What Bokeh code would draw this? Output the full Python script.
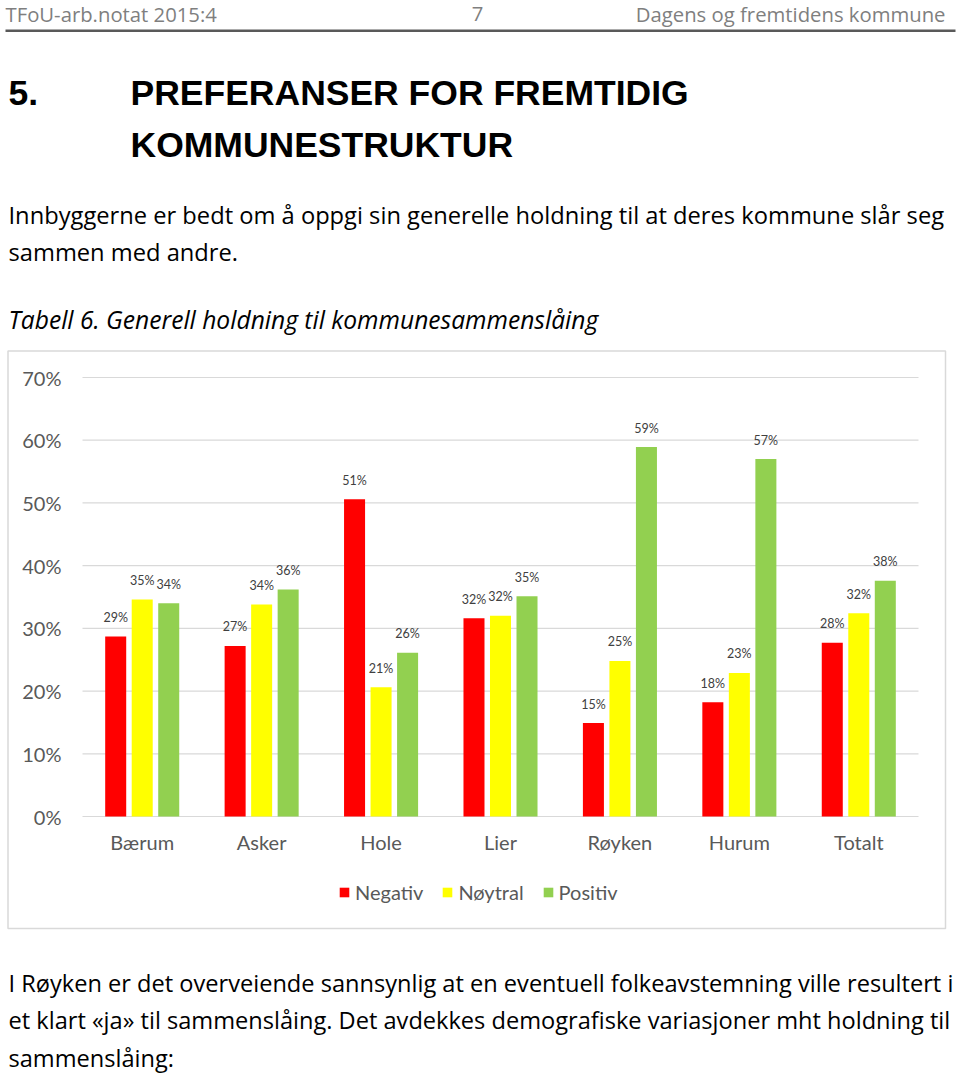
from bokeh.plotting import figure
from bokeh.models import (ColumnDataSource, Range1d, FixedTicker, Legend, LegendItem, LinearAxis)
from bokeh.transform import dodge
from bokeh.core.properties import value
from bokeh.embed import file_html
from bokeh.resources import INLINE

# ---------------- data ----------------
categories = ["Bærum", "Asker", "Hole", "Lier", "Røyken", "Hurum", "Totalt"]
negativ = [28.7, 27.2, 50.6, 31.6, 14.9, 18.2, 27.7]
noytral = [34.6, 33.8, 20.6, 32.0, 24.8, 22.9, 32.4]
positiv = [34.0, 36.2, 26.1, 35.1, 58.9, 57.0, 37.6]
series_names = ["Negativ", "Nøytral", "Positiv"]
y_ticks = [0, 10, 20, 30, 40, 50, 60, 70]
y_tick_labels = ["0%", "10%", "20%", "30%", "40%", "50%", "60%", "70%"]

header_left = "TFoU-arb.notat 2015:4"
header_mid = "7"
header_right = "Dagens og fremtidens kommune"
title_num = "5."
title_lines = ["PREFERANSER FOR FREMTIDIG", "KOMMUNESTRUKTUR"]
intro_lines = ["Innbyggerne er bedt om å oppgi sin generelle holdning til at deres kommune slår seg",
               "sammen med andre."]
caption = "Tabell 6. Generell holdning til kommunesammenslåing"
outro_lines = ["I Røyken er det overveiende sannsynlig at en eventuell folkeavstemning ville resultert i",
               "et klart «ja» til sammenslåing. Det avdekkes demografiske variasjoner mht holdning til",
               "sammenslåing:"]

COLORS = ["#ff0000", "#ffff00", "#92d050"]
CHART_FONT = "Lato"
BODY_FONT = "Open Sans"

# page geometry (pixels): page size and the chart's plot area on the page
W, H = 960, 1073
FL, FR, FT, FB = 82, 918, 377, 816
NCAT = len(categories)
YMAX = y_ticks[-1]
ppx = (FR - FL) / NCAT      # pixels per category slot
ppy = (FB - FT) / YMAX      # pixels per percentage point


def lbl(v):
    return f"{int(v + 0.5)}%"


cat_pos = [i + 0.5 for i in range(NCAT)]

src = ColumnDataSource(dict(
    x=cat_pos,
    neg=negativ, neu=noytral, pos=positiv,
    neg_l=[lbl(v) for v in negativ], neu_l=[lbl(v) for v in noytral], pos_l=[lbl(v) for v in positiv],
))

# the frame is the whole page; the main ranges are the chart's data ranges,
# extended so that the plot area falls where it sits on the page
p = figure(width=W, height=H,
           x_range=Range1d(-FL / ppx, NCAT + (W - FR) / ppx),
           y_range=Range1d(-(H - FB) / ppy, YMAX + FT / ppy),
           x_axis_location=None, y_axis_location=None, title=None,
           output_backend="svg", toolbar_location=None, min_border=0,
           outline_line_color=None, background_fill_color="white", border_fill_color="white")
p.grid.visible = False
# page-pixel coordinates for the surrounding page text
p.extra_x_ranges = {"px": Range1d(0, W)}
p.extra_y_ranges = {"px": Range1d(H, 0)}

# chart box and header rule (page decorations)
p.quad(left=[7.5], right=[945], top=[350.5], bottom=[928], x_range_name="px", y_range_name="px",
       fill_color=None, line_color="#d9d9d9", line_width=1.5)
p.quad(left=[5], right=[955], top=[29], bottom=[31.5], x_range_name="px", y_range_name="px",
       fill_color="#595959", line_color=None)

# horizontal gridlines across the plot area
p.segment(x0=[0] * len(y_ticks), x1=[NCAT] * len(y_ticks), y0=y_ticks, y1=y_ticks,
          line_color="#d9d9d9", line_width=1.2)

BAR_W = 0.176
OFF = 0.222
offsets = [-OFF, 0.0, OFF]
cols = [("neg", "neg_l"), ("neu", "neu_l"), ("pos", "pos_l")]
items = []
for (col, lcol), off, color, name in zip(cols, offsets, COLORS, series_names):
    xx = dodge("x", off)
    r = p.vbar(x=xx, top=col, width=BAR_W, source=src, fill_color=color, line_color=None)
    p.text(x=xx, y=col, text=lcol, source=src, text_align="center", text_baseline="middle",
           y_offset=-19, text_font=value(CHART_FONT), text_font_size="12.5px", text_color="#404040")
    items.append(LegendItem(label=name, renderers=[r]))

yax = LinearAxis(fixed_location=0, ticker=FixedTicker(ticks=y_ticks),
                 major_label_overrides={t: s for t, s in zip(y_ticks, y_tick_labels)},
                 axis_line_color=None, major_tick_line_color=None, minor_tick_line_color=None,
                 major_tick_out=0, major_tick_in=0, major_label_standoff=21,
                 major_label_text_font=CHART_FONT, major_label_text_font_size="20px",
                 major_label_text_color="#595959")
p.add_layout(yax, "left")

xax = LinearAxis(fixed_location=0, ticker=FixedTicker(ticks=cat_pos),
                 major_label_overrides={x: c for x, c in zip(cat_pos, categories)},
                 axis_line_color=None, major_tick_line_color=None, minor_tick_line_color=None,
                 major_tick_out=0, major_tick_in=0, major_label_standoff=13,
                 major_label_text_font=CHART_FONT, major_label_text_font_size="20px",
                 major_label_text_color="#595959")
p.add_layout(xax, "below")

legend = Legend(items=items, orientation="horizontal", location=(338, H - 904),
                glyph_width=12, glyph_height=12, label_standoff=5, spacing=18,
                padding=0, margin=0, border_line_color=None, background_fill_alpha=0,
                label_text_font=CHART_FONT, label_text_font_size="20px", label_text_color="#595959")
p.add_layout(legend, "center")


def put(xs, ys, texts, font=BODY_FONT, size="22px", color="#000000", align="left", style="normal"):
    p.text(x=xs, y=ys, text=texts, x_range_name="px", y_range_name="px",
           text_font=value(font), text_font_size=size, text_color=color, text_align=align,
           text_baseline="middle", text_font_style=style)


put([5], [13.5], [header_left], size="20.3px", color="#7f7f7f")
put([477], [13.5], [header_mid], size="20.3px", color="#7f7f7f", align="center")
put([945], [13.5], [header_right], size="20.3px", color="#7f7f7f", align="right")

put([8], [92], [title_num], font="Liberation Sans", size="35.5px", style="bold")
put([130, 130], [92, 144], title_lines, font="Liberation Sans", size="35.5px", style="bold")

put([8, 8], [214, 251], intro_lines, size="23.7px")
put([8], [319], [caption], size="24.6px", style="italic")

put([8] * len(outro_lines), [982, 1019.5, 1057], outro_lines, size="23.6px")

open("out.html", "w").write(file_html(p, INLINE))
